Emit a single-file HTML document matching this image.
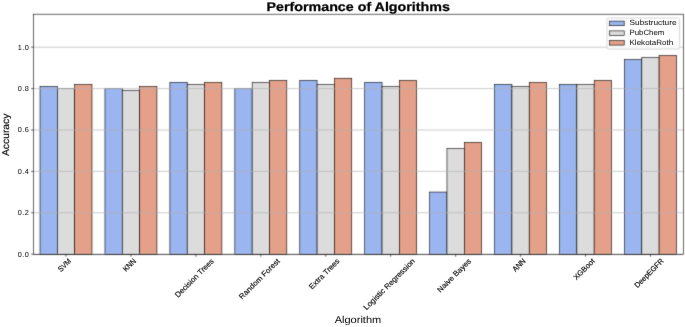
<!DOCTYPE html>
<html><head><meta charset="utf-8"><title>Performance of Algorithms</title>
<style>
html,body{margin:0;padding:0;background:#fff;}
svg{display:block;will-change:transform;}
text{font-family:"Liberation Sans",sans-serif;fill:#000;text-rendering:geometricPrecision;stroke:#000;stroke-width:0.0px;stroke-linejoin:round;}
text.r{stroke-width:0.15px;}
text.t{font-weight:bold;stroke-width:0.25px;}
</style></head><body>
<svg width="685" height="327" viewBox="0 0 685 327">
<defs><filter id="bl" filterUnits="userSpaceOnUse" x="0" y="0" width="685" height="327" color-interpolation-filters="sRGB"><feConvolveMatrix order="5" kernelMatrix="0.00000 0.00013 0.00070 0.00013 0.00000 0.00013 0.01910 0.09973 0.01910 0.00013 0.00070 0.09973 0.52080 0.09973 0.00070 0.00013 0.01910 0.09973 0.01910 0.00013 0.00000 0.00013 0.00070 0.00013 0.00000" edgeMode="duplicate"/></filter><filter id="bt" filterUnits="userSpaceOnUse" x="0" y="0" width="685" height="327" color-interpolation-filters="sRGB"><feConvolveMatrix order="3" kernelMatrix="0.00163 0.03713 0.00163 0.03713 0.84497 0.03713 0.00163 0.03713 0.00163" edgeMode="none"/></filter></defs>
<g filter="url(#bl)">
<rect x="0" y="0" width="685" height="327" fill="#fff"/>
<g stroke="#000" stroke-width="0.6">
<rect x="40.02" y="86.53" width="17.32" height="167.92" fill="#9bb5f0"/>
<rect x="57.34" y="88.6" width="17.32" height="165.85" fill="#dddcdc"/>
<rect x="74.66" y="84.46" width="17.32" height="169.99" fill="#e5a089"/>
<rect x="104.96" y="88.6" width="17.32" height="165.85" fill="#9bb5f0"/>
<rect x="122.28" y="90.67" width="17.32" height="163.78" fill="#dddcdc"/>
<rect x="139.6" y="86.53" width="17.32" height="167.92" fill="#e5a089"/>
<rect x="169.9" y="82.39" width="17.32" height="172.06" fill="#9bb5f0"/>
<rect x="187.22" y="84.46" width="17.32" height="169.99" fill="#dddcdc"/>
<rect x="204.54" y="82.39" width="17.32" height="172.06" fill="#e5a089"/>
<rect x="234.84" y="88.6" width="17.32" height="165.85" fill="#9bb5f0"/>
<rect x="252.16" y="82.39" width="17.32" height="172.06" fill="#dddcdc"/>
<rect x="269.48" y="80.32" width="17.32" height="174.13" fill="#e5a089"/>
<rect x="299.78" y="80.32" width="17.32" height="174.13" fill="#9bb5f0"/>
<rect x="317.1" y="84.46" width="17.32" height="169.99" fill="#dddcdc"/>
<rect x="334.42" y="78.25" width="17.32" height="176.2" fill="#e5a089"/>
<rect x="364.72" y="82.39" width="17.32" height="172.06" fill="#9bb5f0"/>
<rect x="382.04" y="86.53" width="17.32" height="167.92" fill="#dddcdc"/>
<rect x="399.36" y="80.32" width="17.32" height="174.13" fill="#e5a089"/>
<rect x="429.66" y="192.07" width="17.32" height="62.38" fill="#9bb5f0"/>
<rect x="446.98" y="148.61" width="17.32" height="105.84" fill="#dddcdc"/>
<rect x="464.3" y="142.4" width="17.32" height="112.05" fill="#e5a089"/>
<rect x="494.6" y="84.46" width="17.32" height="169.99" fill="#9bb5f0"/>
<rect x="511.92" y="86.53" width="17.32" height="167.92" fill="#dddcdc"/>
<rect x="529.24" y="82.39" width="17.32" height="172.06" fill="#e5a089"/>
<rect x="559.54" y="84.46" width="17.32" height="169.99" fill="#9bb5f0"/>
<rect x="576.86" y="84.46" width="17.32" height="169.99" fill="#dddcdc"/>
<rect x="594.18" y="80.32" width="17.32" height="174.13" fill="#e5a089"/>
<rect x="624.48" y="59.63" width="17.32" height="194.82" fill="#9bb5f0"/>
<rect x="641.8" y="57.56" width="17.32" height="196.89" fill="#dddcdc"/>
<rect x="659.12" y="55.49" width="17.32" height="198.96" fill="#e5a089"/>
</g>
<g stroke="#b0b0b0" stroke-width="0.65">
<line x1="33.4" y1="254.15" x2="683.45" y2="254.15"/>
<line x1="33.4" y1="212.76" x2="683.45" y2="212.76"/>
<line x1="33.4" y1="171.37" x2="683.45" y2="171.37"/>
<line x1="33.4" y1="129.99" x2="683.45" y2="129.99"/>
<line x1="33.4" y1="88.6" x2="683.45" y2="88.6"/>
<line x1="33.4" y1="47.21" x2="683.45" y2="47.21"/>
</g>
<g stroke="#b0b0b0" stroke-width="0.5">
<line x1="57.34" y1="88.6" x2="74.66" y2="88.6"/>
<line x1="104.96" y1="88.6" x2="122.28" y2="88.6"/>
<line x1="234.84" y1="88.6" x2="252.16" y2="88.6"/>
</g>
<rect x="33.4" y="14.2" width="650.05" height="240.25" fill="none" stroke="#000" stroke-width="0.6"/>
<g stroke="#000" stroke-width="0.6">
<line x1="31.1" y1="254.15" x2="33.4" y2="254.15"/>
<line x1="31.1" y1="212.76" x2="33.4" y2="212.76"/>
<line x1="31.1" y1="171.37" x2="33.4" y2="171.37"/>
<line x1="31.1" y1="129.99" x2="33.4" y2="129.99"/>
<line x1="31.1" y1="88.6" x2="33.4" y2="88.6"/>
<line x1="31.1" y1="47.21" x2="33.4" y2="47.21"/>
<line x1="66" y1="254.45" x2="66" y2="256.75"/>
<line x1="130.94" y1="254.45" x2="130.94" y2="256.75"/>
<line x1="195.88" y1="254.45" x2="195.88" y2="256.75"/>
<line x1="260.82" y1="254.45" x2="260.82" y2="256.75"/>
<line x1="325.76" y1="254.45" x2="325.76" y2="256.75"/>
<line x1="390.7" y1="254.45" x2="390.7" y2="256.75"/>
<line x1="455.64" y1="254.45" x2="455.64" y2="256.75"/>
<line x1="520.58" y1="254.45" x2="520.58" y2="256.75"/>
<line x1="585.52" y1="254.45" x2="585.52" y2="256.75"/>
<line x1="650.46" y1="254.45" x2="650.46" y2="256.75"/>
</g>
<rect x="607" y="18" width="72.6" height="31" rx="1.5" ry="1.5" fill="#fff" fill-opacity="0.8" stroke="#cccccc" stroke-width="0.8"/>
<rect x="609.6" y="21.1" width="14.6" height="4.6" fill="#9bb5f0" stroke="#000" stroke-width="0.6"/>
<rect x="609.6" y="30.9" width="14.6" height="4.6" fill="#dddcdc" stroke="#000" stroke-width="0.6"/>
<rect x="609.6" y="40.5" width="14.6" height="4.6" fill="#e5a089" stroke="#000" stroke-width="0.6"/>
</g>
<g filter="url(#bt)">
<text x="17.73" y="256.55" font-size="7.31" textLength="10.97" lengthAdjust="spacing">0.0</text>
<text x="17.73" y="215.16" font-size="7.31" textLength="10.97" lengthAdjust="spacing">0.2</text>
<text x="17.73" y="173.77" font-size="7.31" textLength="10.97" lengthAdjust="spacing">0.4</text>
<text x="17.73" y="132.39" font-size="7.31" textLength="10.97" lengthAdjust="spacing">0.6</text>
<text x="17.73" y="91" font-size="7.31" textLength="10.97" lengthAdjust="spacing">0.8</text>
<text x="17.73" y="49.61" font-size="7.31" textLength="10.97" lengthAdjust="spacing">1.0</text>
<text class="r" transform="translate(65.3 266.33) rotate(-45)" x="-7.16" y="1.11" font-size="7.59" textLength="14.92" lengthAdjust="spacingAndGlyphs">SVM</text>
<text class="r" transform="translate(130.24 266.25) rotate(-45)" x="-7.05" y="1.11" font-size="7.59" textLength="14.71" lengthAdjust="spacingAndGlyphs">KNN</text>
<text class="r" transform="translate(195.18 279.23) rotate(-45)" x="-25.41" y="1.11" font-size="7.59" textLength="51.41" lengthAdjust="spacingAndGlyphs">Decision Trees</text>
<text class="r" transform="translate(260.12 280.13) rotate(-45)" x="-26.67" y="1.11" font-size="7.59" textLength="53.95" lengthAdjust="spacingAndGlyphs">Random Forest</text>
<text class="r" transform="translate(325.06 275.05) rotate(-45)" x="-19.5" y="1.11" font-size="7.59" textLength="39.6" lengthAdjust="spacingAndGlyphs">Extra Trees</text>
<text class="r" transform="translate(390 285.46) rotate(-45)" x="-34.21" y="1.11" font-size="7.59" textLength="69.03" lengthAdjust="spacingAndGlyphs">Logistic Regression</text>
<text class="r" transform="translate(454.94 276.68) rotate(-45)" x="-21.79" y="1.11" font-size="7.59" textLength="44.19" lengthAdjust="spacingAndGlyphs">Naive Bayes</text>
<text class="r" transform="translate(519.88 266.33) rotate(-45)" x="-7.16" y="1.11" font-size="7.59" textLength="14.91" lengthAdjust="spacingAndGlyphs">ANN</text>
<text class="r" transform="translate(584.82 270.41) rotate(-45)" x="-12.93" y="1.11" font-size="7.59" textLength="26.46" lengthAdjust="spacingAndGlyphs">XGBoot</text>
<text class="r" transform="translate(649.76 274.41) rotate(-45)" x="-18.59" y="1.11" font-size="7.59" textLength="37.78" lengthAdjust="spacingAndGlyphs">DeepEGFR</text>
<text class="t" x="266.5" y="10.75" font-size="12.53" textLength="183.41" lengthAdjust="spacingAndGlyphs">Performance of Algorithms</text>
<text x="334.67" y="323.3" font-size="9.86" textLength="46.55" lengthAdjust="spacingAndGlyphs">Algorithm</text>
<text class="r" transform="translate(8.9 134.8) rotate(-90)" x="-21.23" y="0" font-size="9.86" textLength="42.46" lengthAdjust="spacingAndGlyphs">Accuracy</text>
<text x="629.5" y="25.4" font-size="7.59" textLength="47.02" lengthAdjust="spacingAndGlyphs">Substructure</text>
<text x="629.5" y="35.2" font-size="7.59" textLength="34.86" lengthAdjust="spacingAndGlyphs">PubChem</text>
<text x="629.5" y="44.8" font-size="7.59" textLength="43.78" lengthAdjust="spacingAndGlyphs">KlekotaRoth</text>
</g>
</svg>
</body></html>
